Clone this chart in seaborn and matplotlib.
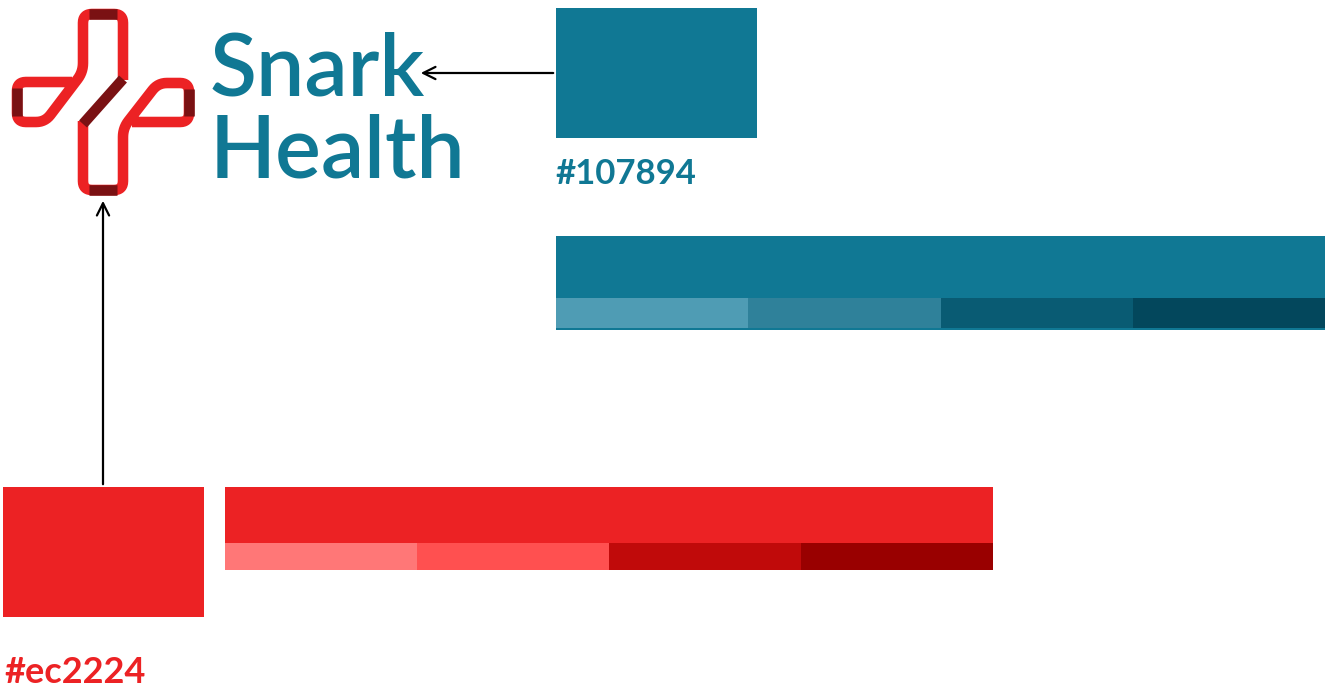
import matplotlib
matplotlib.use("Agg")
import matplotlib.pyplot as plt
import seaborn as sns
import numpy as np
from matplotlib.patches import Rectangle

# brand colours
teal_main = "#107894"
teal_shades = ["#4f9cb4", "#2f819a", "#095b73", "#03475c"]
red_main = "#ec2224"
red_shades = ["#ff7777", "#ff5050", "#c00a0a", "#990000"]
logo_dark = "#7a1113"
brand_words = ["Snark", "Health"]

sns.set_style("white")
plt.rcParams['font.family'] = ['Lato', 'DejaVu Sans']


def rounded(points, r=8, n=8):
    # round the inner corners of a polyline
    pts = [np.array(p, float) for p in points]
    out = [pts[0]]
    for a, b, c in zip(pts[:-2], pts[1:-1], pts[2:]):
        b1 = b + r * (a - b) / np.linalg.norm(a - b)
        b2 = b + r * (c - b) / np.linalg.norm(c - b)
        for t in np.linspace(0, 1, n):
            out.append((1 - t) ** 2 * b1 + 2 * t * (1 - t) * b + t ** 2 * b2)
    out.append(pts[-1])
    out = np.array(out)
    return out[:, 0], out[:, 1]


W, H = 1332, 687
fig = plt.figure(figsize=(W / 100, H / 100), dpi=100)
ax = fig.add_axes([0, 0, 1, 1])
ax.set_xlim(0, W)
ax.set_ylim(H, 0)
ax.axis("off")

# --- logo (ribbon cross) ---
lw = 7.6
red_paths = [
    [(72, 82), (17, 82), (17, 122), (45, 122), (83, 72), (83, 14), (123, 14), (123, 80)],
    [(83, 121), (83, 190), (123, 190), (123, 128), (158, 83), (189, 83), (189, 122), (132, 122)],
]
dark_paths = [
    [(17, 88), (17, 116)],
    [(89, 14), (117, 14)],
    [(123, 79), (83, 124)],
    [(89, 190), (117, 190)],
    [(189, 89), (189, 116)],
]
for p in red_paths:
    xs, ys = rounded(p, r=9)
    ax.plot(xs, ys, color=red_main, lw=lw, solid_joinstyle="round", solid_capstyle="butt")
for p in dark_paths:
    xs, ys = zip(*p)
    ax.plot(xs, ys, color=logo_dark, lw=lw, solid_capstyle="butt")

ax.text(210, 95, brand_words[0], color=teal_main, fontsize=62, fontweight="semibold", va="baseline")
ax.text(210, 177, brand_words[1], color=teal_main, fontsize=62, fontweight="semibold", va="baseline")

# --- teal swatch + strip ---
ax.add_patch(Rectangle((556, 8), 201, 130, color=teal_main, lw=0))
ax.text(555, 184, teal_main, color=teal_main, fontsize=25, fontweight="bold", va="baseline")

ax.barh(267, 769, height=62, left=556, color=teal_main, lw=0)
ax.barh(313, 769, height=34, left=556, color=teal_main, lw=0)
seg = 769 / len(teal_shades)
ax.barh([313] * 4, [seg] * 4, height=30, left=[556 + i * seg for i in range(4)],
        color=teal_shades, lw=0)

# --- red swatch + strip ---
ax.add_patch(Rectangle((3, 487), 201, 130, color=red_main, lw=0))
t = ax.text(4, 683, red_main, color=red_main, fontsize=26, fontweight="bold", va="baseline")

ax.barh(515, 768, height=56, left=225, color=red_main, lw=0)
seg = 768 / len(red_shades)
ax.barh([556.5] * 4, [seg] * 4, height=27, left=[225 + i * seg for i in range(4)],
        color=red_shades, lw=0)

# --- arrows ---
ax.annotate("", xy=(418, 73), xytext=(556, 73),
            arrowprops=dict(arrowstyle="->", lw=1.6, color="black", mutation_scale=22))
ax.annotate("", xy=(103, 198), xytext=(103, 487),
            arrowprops=dict(arrowstyle="->", lw=1.6, color="black", mutation_scale=22))

fig.savefig("out.png", dpi=100)
